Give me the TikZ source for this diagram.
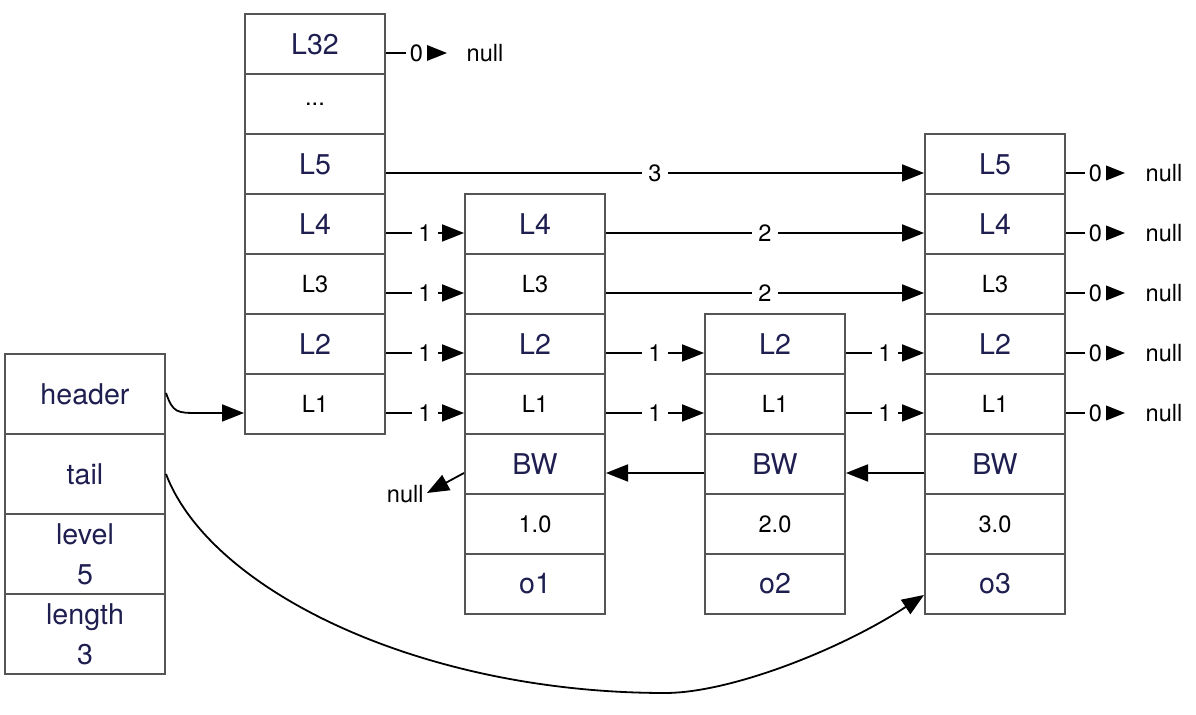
\documentclass[tikz,border=0pt]{standalone}
\usepackage{fontspec}
\setmainfont{TeX Gyre Heros}
\usetikzlibrary{arrows.meta,calc}
\definecolor{navy}{RGB}{30,30,80}
\definecolor{boxgray}{RGB}{85,85,85}
\begin{document}
\begin{tikzpicture}[x=0.5pt,y=-0.5pt,
  cell/.style={draw=boxgray,line width=1pt,minimum width=70pt,minimum height=30pt,inner sep=0pt,fill=white},
  hcell/.style={cell,minimum width=80pt,minimum height=40pt,align=center},
  nv/.style={text=navy,font=\fontsize{14.3}{20}\selectfont},
  bk/.style={text=black,font=\fontsize{11.8}{14}\selectfont},
  arr/.style={draw=black,line width=0.9pt,-{Triangle[length=11pt,width=8.5pt]}},
  lab/.style={fill=white,inner sep=3pt,font=\fontsize{11.8}{14}\selectfont},
  zlab/.style={fill=white,inner sep=2pt,font=\fontsize{11.8}{14}\selectfont},
  nulltxt/.style={inner sep=0pt,font=\fontsize{11.8}{14}\selectfont}
]
\useasboundingbox (0,0) rectangle (1196,715);

% header structure
\node[hcell,nv] (Hh) at (85,394) {header};
\node[hcell,nv] (Ht) at (85,474) {tail};
\node[hcell,nv] (Hl) at (85,554) {level\\5};
\node[hcell,nv] (Hn) at (85,634) {length\\3};

% column A (header levels)
\node[cell,nv] (A32) at (315,44) {L32};
\node[cell,bk] (Ad) at (315,104) {...};
\node[cell,nv] (A5) at (315,164) {L5};
\node[cell,nv] (A4) at (315,224) {L4};
\node[cell,bk] (A3) at (315,284) {L3};
\node[cell,nv] (A2) at (315,344) {L2};
\node[cell,bk] (A1) at (315,404) {L1};

% column B (o1)
\node[cell,nv] (B4) at (535,224) {L4};
\node[cell,bk] (B3) at (535,284) {L3};
\node[cell,nv] (B2) at (535,344) {L2};
\node[cell,bk] (B1) at (535,404) {L1};
\node[cell,nv] (Bbw) at (535,464) {BW};
\node[cell,bk] (Bsc) at (535,524) {1.0};
\node[cell,nv] (Bob) at (535,584) {o1};

% column C (o2)
\node[cell,nv] (C2) at (775,344) {L2};
\node[cell,bk] (C1) at (775,404) {L1};
\node[cell,nv] (Cbw) at (775,464) {BW};
\node[cell,bk] (Csc) at (775,524) {2.0};
\node[cell,nv] (Cob) at (775,584) {o2};

% column D (o3)
\node[cell,nv] (D5) at (995,164) {L5};
\node[cell,nv] (D4) at (995,224) {L4};
\node[cell,bk] (D3) at (995,284) {L3};
\node[cell,nv] (D2) at (995,344) {L2};
\node[cell,bk] (D1) at (995,404) {L1};
\node[cell,nv] (Dbw) at (995,464) {BW};
\node[cell,bk] (Dsc) at (995,524) {3.0};
\node[cell,nv] (Dob) at (995,584) {o3};

% null targets
\coordinate (n32) at (447,53);
\node[nulltxt] (t32) at (485,53) {null};
\foreach \r/\y in {5/173,4/233,3/293,2/353,1/413}{
  \coordinate (nD\r) at (1125,\y);
  \node[nulltxt] (tD\r) at (1164,\y) {null};
}
\coordinate (nB) at (427,493);
\node[nulltxt,anchor=east] (tB) at (424,494) {null};

% forward pointers
\draw[arr] ($(A32.east)+(0,9)$) -- node[zlab]{0} (n32);
\draw[arr] ($(A5.east)+(0,9)$) -- node[lab]{3} ($(D5.west)+(0,9)$);
\foreach \r in {4,3,2,1}{
  \draw[arr] ($(A\r.east)+(0,9)$) -- node[lab]{1} ($(B\r.west)+(0,9)$);
}
\draw[arr] ($(B4.east)+(0,9)$) -- node[lab]{2} ($(D4.west)+(0,9)$);
\draw[arr] ($(B3.east)+(0,9)$) -- node[lab]{2} ($(D3.west)+(0,9)$);
\foreach \r in {2,1}{
  \draw[arr] ($(B\r.east)+(0,9)$) -- node[lab]{1} ($(C\r.west)+(0,9)$);
  \draw[arr] ($(C\r.east)+(0,9)$) -- node[lab]{1} ($(D\r.west)+(0,9)$);
}
\foreach \r in {5,4,3,2,1}{
  \draw[arr] ($(D\r.east)+(0,9)$) -- node[zlab]{0} (nD\r);
}

% backward pointers
\draw[arr] ($(Cbw.west)+(0,9)$) -- ($(Bbw.east)+(0,9)$);
\draw[arr] ($(Dbw.west)+(0,9)$) -- ($(Cbw.east)+(0,9)$);
\draw[arr] ($(Bbw.west)+(0,9)$) -- (nB);

% header and tail
\draw[arr] ($(Hh.east)+(0,-1)$) .. controls +(7,20) and +(-22,0) .. ($(A1.west)+(-45,9)$) -- ($(A1.west)+(0,9)$);
\coordinate (low) at (665,693);
\draw[arr] (Ht.east) .. controls (210,590) and (420,693) .. (low)
  .. controls (730,693) and (840,650) .. ($(Dob.west)+(0,11)$);
\end{tikzpicture}
\end{document}
